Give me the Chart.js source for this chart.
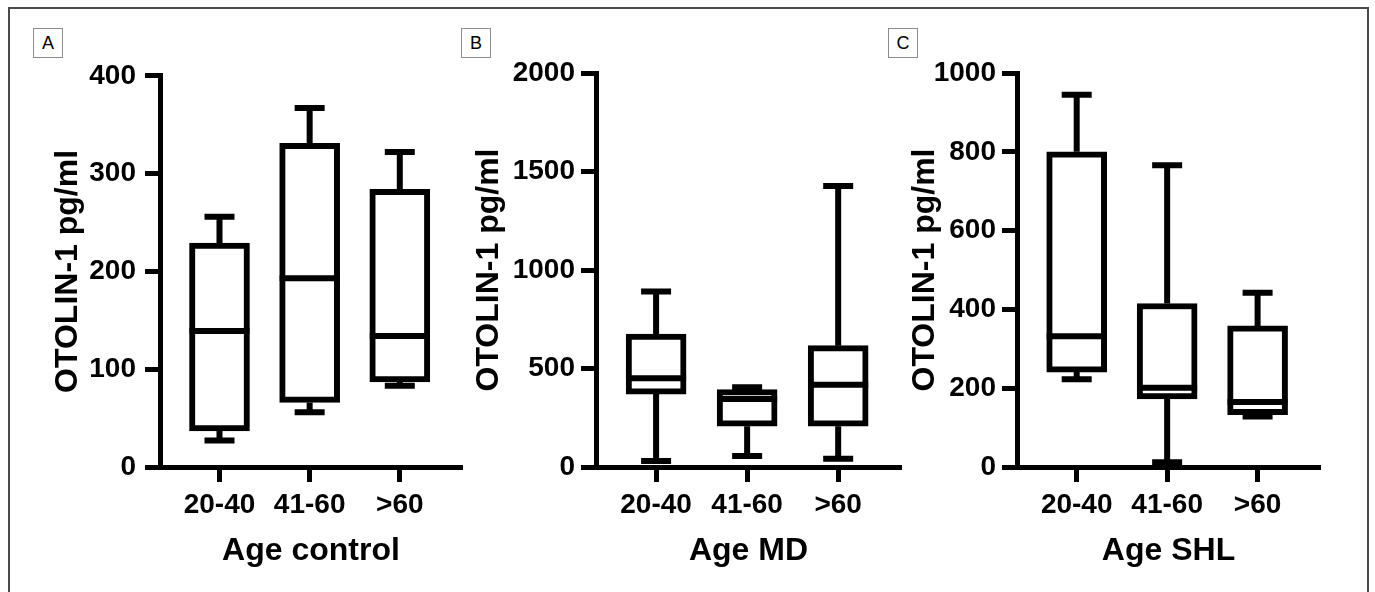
<!DOCTYPE html>
<html>
<head>
<meta charset="utf-8">
<script src="https://cdn.jsdelivr.net/npm/chart.js@4"></script>
<style>
  body { margin: 0; background: #fff; width: 1375px; height: 592px; overflow: hidden; position: relative; font-family: 'Liberation Sans', Arial, sans-serif; }
  .frame { position: absolute; left: 8px; top: 7px; width: 1361px; height: 640px; border: 2px solid #4a4a4a; box-sizing: border-box; }
  .tag { position: absolute; top: 28px; width: 30px; height: 30px; border: 1px solid #8c8c8c; box-sizing: border-box; font-size: 18px; line-height: 28px; text-align: center; color: #000; }
  canvas { position: absolute; top: 50px; }
</style>
</head>
<body>
<div class="frame"></div>
<div class="tag" style="left:33px">A</div>
<div class="tag" style="left:461px">B</div>
<div class="tag" style="left:888px">C</div>
<canvas id="chartA" width="455" height="542" style="left:10px"></canvas>
<canvas id="chartB" width="435" height="542" style="left:470px"></canvas>
<canvas id="chartC" width="420" height="542" style="left:905px"></canvas>
<script>
const groups = ['20-40', '41-60', '>60'];

// Age control
const controlMin = [27, 56, 83];
const controlQ1 = [37, 66, 87];
const controlMedian = [139, 193, 134];
const controlQ3 = [229, 331, 284];
const controlMax = [256, 367, 322];

// Age MD
const mdMin = [30, 56, 42];
const mdQ1 = [370, 207, 207];
const mdMedian = [451, 345, 417];
const mdQ3 = [675, 393, 616];
const mdMax = [891, 405, 1427];

// Age SHL
const shlMin = [223, 12, 128];
const shlQ1 = [241, 173, 133];
const shlMedian = [332, 201, 165];
const shlQ3 = [800, 415, 358];
const shlMax = [945, 766, 442];

const fontFamily = "'Liberation Sans', Arial, sans-serif";

const panels = [
    { id: 'chartA', title: 'Age control', yMax: 400, yStep: 100,
      min: controlMin, q1: controlQ1, median: controlMedian, q3: controlQ3, max: controlMax,
      yWidth: 150, titlePad: 39, tickPad: 9, rightPad: 3 },
    { id: 'chartB', title: 'Age MD', yMax: 2000, yStep: 500,
      min: mdMin, q1: mdQ1, median: mdMedian, q3: mdQ3, max: mdMax,
      yWidth: 126, titlePad: 0, tickPad: 6, rightPad: 4 },
    { id: 'chartC', title: 'Age SHL', yMax: 1000, yStep: 200,
      min: shlMin, q1: shlQ1, median: shlMedian, q3: shlQ3, max: shlMax,
      yWidth: 112, titlePad: 1, tickPad: 6, rightPad: 5 }
];

// whiskers, caps and median line, drawn on top of the boxes
function whiskers(p) {
    return {
        id: 'whiskers',
        afterDatasetsDraw(chart) {
            const ctx = chart.ctx;
            const x = chart.scales.x;
            const y = chart.scales.y;
            ctx.save();
            ctx.strokeStyle = '#000';
            ctx.lineWidth = 6;
            p.median.forEach((m, i) => {
                const cx = x.getPixelForValue(i);
                const yMin = y.getPixelForValue(p.min[i]);
                const yQ1 = y.getPixelForValue(p.q1[i]);
                const yMed = y.getPixelForValue(m);
                const yQ3 = y.getPixelForValue(p.q3[i]);
                const yMax = y.getPixelForValue(p.max[i]);
                ctx.beginPath();
                ctx.moveTo(cx, yQ3); ctx.lineTo(cx, yMax);
                ctx.moveTo(cx, yQ1); ctx.lineTo(cx, yMin);
                ctx.moveTo(cx - 15, yMax); ctx.lineTo(cx + 15, yMax);
                ctx.moveTo(cx - 15, yMin); ctx.lineTo(cx + 15, yMin);
                ctx.moveTo(cx - 30, yMed); ctx.lineTo(cx + 30, yMed);
                ctx.stroke();
            });
            ctx.restore();
        }
    };
}

panels.forEach(p => {
    new Chart(document.getElementById(p.id), {
        type: 'bar',
        data: {
            datasets: [{
                data: groups.map((g, i) => ({ x: i, y: [p.q1[i], p.q3[i]] })),
                backgroundColor: '#fff',
                borderColor: '#000',
                borderWidth: 6,
                borderSkipped: false,
                barThickness: 60
            }]
        },
        options: {
            responsive: false,
            animation: false,
            layout: { padding: { top: 23, right: p.rightPad, bottom: 0, left: 0 } },
            plugins: {
                legend: { display: false },
                tooltip: { enabled: false }
            },
            scales: {
                x: {
                    type: 'linear',
                    min: -0.66,
                    max: 2.69,
                    offset: false,
                    afterBuildTicks: s => { s.ticks = groups.map((g, i) => ({ value: i })); },
                    afterFit: s => { s.height = 125; },
                    ticks: {
                        callback: v => groups[Math.round(v)],
                        font: { size: 28, weight: 'bold', family: fontFamily },
                        color: '#000',
                        padding: 6,
                        maxRotation: 0,
                        autoSkip: false
                    },
                    grid: { offset: false, drawOnChartArea: false, tickLength: 15, tickWidth: 5, tickColor: '#000' },
                    border: { display: true, color: '#000', width: 5 },
                    title: {
                        display: true,
                        text: p.title,
                        color: '#000',
                        font: { size: 32, weight: 'bold', family: fontFamily },
                        padding: { top: 0, bottom: 22 }
                    }
                },
                y: {
                    min: 0,
                    max: p.yMax,
                    afterFit: s => { s.width = p.yWidth; },
                    ticks: {
                        stepSize: p.yStep,
                        callback: v => String(v),
                        font: { size: 28, weight: 'bold', family: fontFamily },
                        color: '#000',
                        padding: p.tickPad
                    },
                    grid: { drawOnChartArea: false, tickLength: 15, tickWidth: 5, tickColor: '#000' },
                    border: { display: true, color: '#000', width: 5 },
                    title: {
                        display: true,
                        text: 'OTOLIN-1 pg/ml',
                        color: '#000',
                        font: { size: 32, weight: 'bold', family: fontFamily },
                        padding: { top: p.titlePad, bottom: 0 }
                    }
                }
            }
        },
        plugins: [whiskers(p)]
    });
});
</script>
</body>
</html>
